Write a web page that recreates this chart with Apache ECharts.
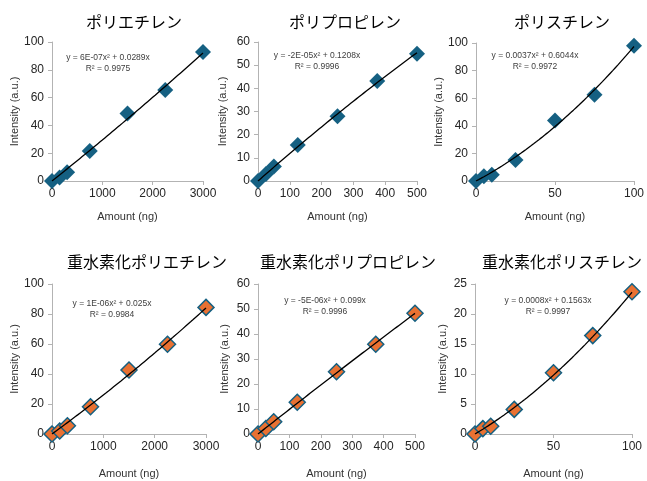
<!DOCTYPE html>
<html>
<head>
<meta charset="utf-8">
<script src="https://cdn.jsdelivr.net/npm/echarts@6/dist/echarts.min.js"></script>
<style>
  html, body { margin: 0; padding: 0; background: #fff; }
  #chart { width: 647px; height: 481px; }
</style>
</head>
<body>
<div id="chart"></div>
<script>
// Panel titles
const panelTitles = ['ポリエチレン', 'ポリプロピレン', 'ポリスチレン',
  '重水素化ポリエチレン', '重水素化ポリプロピレン', '重水素化ポリスチレン'];

// Amounts (ng) for each polymer
const amountPE = [0, 150, 300, 750, 1500, 2250, 3000];
const amountPP = [0, 25, 50, 125, 250, 375, 500];
const amountPS = [0, 5, 10, 25, 50, 75, 100];

// Measured intensities (a.u.)
const intensityPE = [0, 2.6, 6.3, 21.5, 48.5, 65.5, 92.8];
const intensityPP = [0, 3.0, 6.3, 15.5, 28.0, 43.2, 54.9];
const intensityPS = [0, 3.5, 4.6, 15.3, 43.8, 62.5, 98.0];
const intensityDPE = [0, 2.0, 5.5, 18.2, 42.7, 59.8, 84.4];
const intensityDPP = [0, 2.2, 4.9, 12.7, 24.9, 35.9, 48.3];
const intensityDPS = [0, 0.9, 1.3, 4.1, 10.2, 16.4, 23.7];

// Quadratic trendline coefficients: y = a*x^2 + b*x
const fitA = [6e-7, -2e-5, 0.0037, 1e-6, -5e-6, 0.0008];
const fitB = [0.0289, 0.1208, 0.6044, 0.025, 0.099, 0.1563];
const fitEquation = ['y = 6E-07x² + 0.0289x', 'y = -2E-05x² + 0.1208x', 'y = 0.0037x² + 0.6044x',
  'y = 1E-06x² + 0.025x', 'y = -5E-06x² + 0.099x', 'y = 0.0008x² + 0.1563x'];
const fitR2 = ['R² = 0.9975', 'R² = 0.9996', 'R² = 0.9972', 'R² = 0.9984', 'R² = 0.9996', 'R² = 0.9997'];

// Axis ranges
const xMax = [3000, 500, 100, 3000, 500, 100];
const xStep = [1000, 100, 50, 1000, 100, 50];
const yMax = [100, 60, 100, 100, 60, 25];
const yStep = [20, 10, 20, 20, 10, 5];

const amounts = [amountPE, amountPP, amountPS, amountPE, amountPP, amountPS];
const intensities = [intensityPE, intensityPP, intensityPS, intensityDPE, intensityDPP, intensityDPS];

// Layout of each panel (plot area in px, title / equation anchors)
const layout = [
  { left: 52, top: 42, width: 151, height: 139, tx: 129, ty: 9, ex: 108, ey: 57, yGap: 31, xGap: 30 },
  { left: 258, top: 42, width: 159, height: 139, tx: 340, ty: 9, ex: 317, ey: 55, yGap: 30, xGap: 30 },
  { left: 476, top: 43, width: 161, height: 138, tx: 557, ty: 9, ex: 535, ey: 55, yGap: 27, xGap: 30 },
  { left: 52, top: 284, width: 154, height: 150, tx: 142, ty: 249, ex: 112, ey: 303, yGap: 31, xGap: 34 },
  { left: 258, top: 284, width: 157, height: 150, tx: 343, ty: 249, ex: 325, ey: 300, yGap: 28, xGap: 34 },
  { left: 475, top: 284, width: 157, height: 150, tx: 557, ty: 249, ex: 548, ey: 300, yGap: 27, xGap: 34 }
];

const blue = '#156082';
const orange = '#E97132';
const axisGray = '#b3b3b3';
const textFont = '"Liberation Sans", Arial, sans-serif';

function trendPoints(i) {
  const pts = [];
  const n = 60;
  for (let k = 0; k <= n; k++) {
    const x = xMax[i] * k / n;
    pts.push([x, fitA[i] * x * x + fitB[i] * x]);
  }
  return pts;
}

const grid = [], xAxis = [], yAxis = [], series = [], title = [], graphic = [];

for (let i = 0; i < 6; i++) {
  const L = layout[i];
  grid.push({ left: L.left, top: L.top, width: L.width, height: L.height });
  title.push({
    text: panelTitles[i], left: L.tx, top: L.ty, textAlign: 'center',
    textStyle: { fontFamily: '"Noto Sans CJK JP", sans-serif', fontSize: 16, fontWeight: 'normal', color: '#000' }
  });
  xAxis.push({
    type: 'value', gridIndex: i, min: 0, max: xMax[i], interval: xStep[i],
    name: 'Amount (ng)', nameLocation: 'middle', nameGap: L.xGap,
    nameTextStyle: { fontFamily: textFont, fontSize: 11, color: '#333' },
    axisLine: { show: true, lineStyle: { color: axisGray, width: 1 } },
    axisTick: { show: true, length: 4, lineStyle: { color: axisGray } },
    splitLine: { show: false },
    axisLabel: { fontFamily: textFont, fontSize: 12, color: '#262626', margin: 7,
      formatter: v => String(v) }
  });
  yAxis.push({
    type: 'value', gridIndex: i, min: 0, max: yMax[i], interval: yStep[i],
    name: 'Intensity (a.u.)', nameLocation: 'middle', nameGap: L.yGap,
    nameTextStyle: { fontFamily: textFont, fontSize: 11, color: '#333' },
    axisLine: { show: true, lineStyle: { color: axisGray, width: 1 } },
    axisTick: { show: true, length: 4, lineStyle: { color: axisGray } },
    splitLine: { show: false },
    axisLabel: { fontFamily: textFont, fontSize: 12, color: '#262626', margin: 8,
      formatter: v => String(v) }
  });
  const deuterated = i >= 3;
  series.push({
    type: 'scatter', xAxisIndex: i, yAxisIndex: i,
    data: amounts[i].map((x, k) => [x, intensities[i][k]]),
    symbol: 'diamond', symbolSize: 16,
    itemStyle: deuterated
      ? { color: orange, borderColor: blue, borderWidth: 1.5, opacity: 1 }
      : { color: blue, borderColor: blue, borderWidth: 0, opacity: 1 },
    z: 2
  });
  series.push({
    type: 'line', xAxisIndex: i, yAxisIndex: i,
    data: trendPoints(i), showSymbol: false, symbol: 'none',
    lineStyle: { color: '#000', width: 1.3 }, silent: true, z: 3
  });
  graphic.push({
    type: 'text', z: 10,
    style: { text: fitEquation[i] + '\n' + fitR2[i], x: L.ex, y: L.ey - 5, align: 'center', verticalAlign: 'top',
      font: '8.5px ' + textFont, fill: '#404040', lineHeight: 11 }
  });
}

const chart = echarts.init(document.getElementById('chart'), null, { renderer: 'canvas' });
chart.setOption({
  animation: false,
  backgroundColor: '#fff',
  title, grid, xAxis, yAxis, series, graphic
});
</script>
</body>
</html>
